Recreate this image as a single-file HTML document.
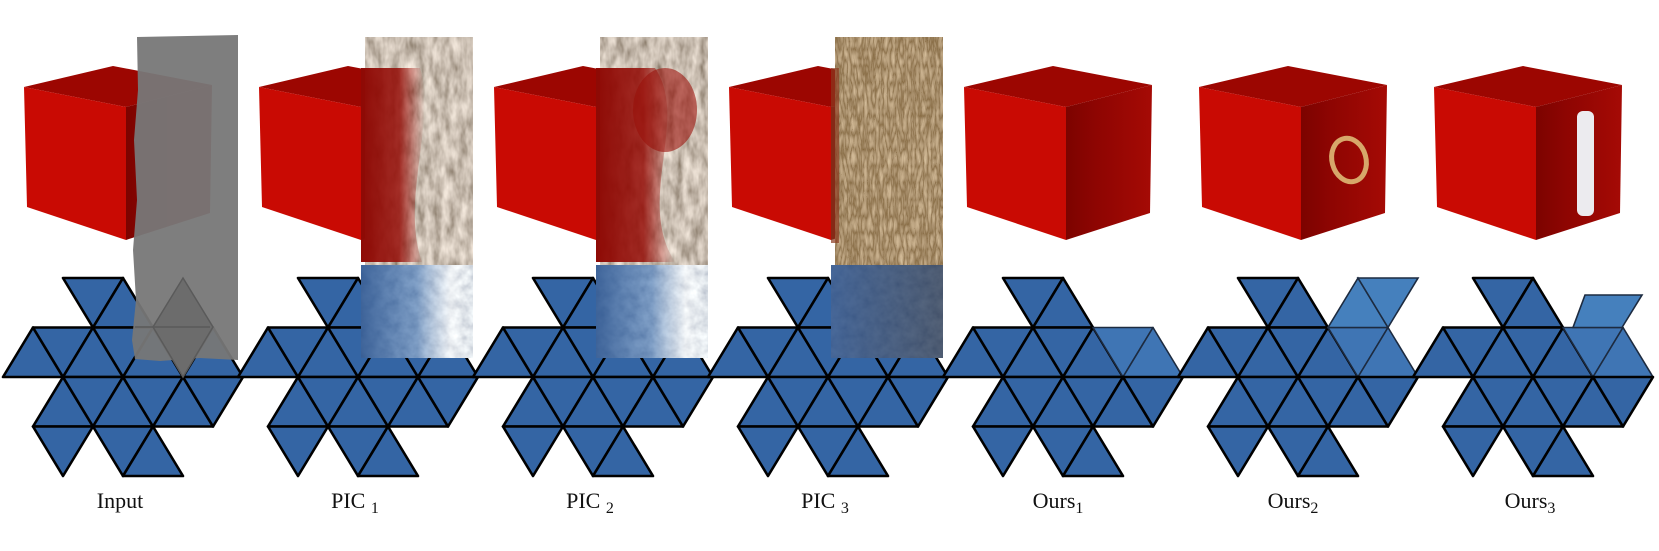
<!DOCTYPE html>
<html><head><meta charset="utf-8"><style>
html,body{margin:0;padding:0;background:#fff;}
#wrap{position:relative;width:1659px;height:551px;overflow:hidden;background:#fff;}
svg{position:absolute;left:0;top:0;}
.lbl{position:absolute;top:488px;width:200px;text-align:center;font-family:"Liberation Serif",serif;font-size:22px;color:#111;}
.lbl sub{font-size:16px;vertical-align:-5px;}
</style></head><body>
<div id="wrap">
<svg id="fig" width="1659" height="551">
<defs>
<linearGradient id="rf" x1="0" x2="1" y1="0" y2="0"><stop offset="0" stop-color="#7c0300"/><stop offset="0.35" stop-color="#8e0502"/><stop offset="1" stop-color="#a50a05"/></linearGradient>
<linearGradient id="redfade" x1="0" x2="1" y1="0" y2="0"><stop offset="0" stop-color="#8e0a05" stop-opacity="1"/><stop offset="0.6" stop-color="#960e08" stop-opacity="0.85"/><stop offset="1" stop-color="#a0100a" stop-opacity="0"/></linearGradient>
<linearGradient id="bluefade" x1="0" x2="1" y1="0" y2="0"><stop offset="0" stop-color="#2c5590" stop-opacity="0.9"/><stop offset="0.5" stop-color="#3a6aa8" stop-opacity="0.6"/><stop offset="0.8" stop-color="#ffffff" stop-opacity="0.5"/><stop offset="1" stop-color="#ffffff" stop-opacity="0.2"/></linearGradient>
<linearGradient id="navy" x1="0" x2="1" y1="0" y2="0"><stop offset="0" stop-color="#2a4f88" stop-opacity="0.85"/><stop offset="1" stop-color="#1f2f4a" stop-opacity="0.75"/></linearGradient>
<filter id="nz" x="0" y="0" width="1" height="1"><feTurbulence type="fractalNoise" baseFrequency="0.12 0.05" numOctaves="3" seed="3"/><feColorMatrix type="matrix" values="0.9 0 0 0 0.15  0.85 0 0 0 0.1  0.8 0 0 0 0.05  0 0 0 0 1"/></filter>
<filter id="nzb" x="0" y="0" width="1" height="1"><feTurbulence type="fractalNoise" baseFrequency="0.1" numOctaves="3" seed="7"/><feColorMatrix type="matrix" values="0.8 0 0 0 0.3  0.8 0 0 0 0.35  0.7 0 0 0 0.45  0 0 0 0 1"/></filter>
<filter id="nzw" x="0" y="0" width="1" height="1"><feTurbulence type="turbulence" baseFrequency="0.25 0.06" numOctaves="2" seed="5"/><feColorMatrix type="matrix" values="1.0 0 0 0 0.3  0.9 0 0 0 0.2  0.7 0 0 0 0.08  0 0 0 0 1"/></filter>
</defs>
</svg>
<div class="lbl" style="left:20px">Input</div>
<div class="lbl" style="left:255px">PIC <sub>1</sub></div>
<div class="lbl" style="left:490px">PIC <sub>2</sub></div>
<div class="lbl" style="left:725px">PIC <sub>3</sub></div>
<div class="lbl" style="left:958px">Ours<sub>1</sub></div>
<div class="lbl" style="left:1193px">Ours<sub>2</sub></div>
<div class="lbl" style="left:1430px">Ours<sub>3</sub></div>
</div>
<script>
const panels=['input','pic1','pic2','pic3','ours1','ours2','ours3'];
const baseTris=[[0,3,'d'],[0,4,'u'],[1,1,'u'],[1,2,'d'],[1,3,'u'],[1,4,'d'],[1,5,'u'],[1,6,'d'],[1,7,'u'],[2,2,'u'],[2,3,'d'],[2,4,'u'],[2,5,'d'],[2,6,'u'],[2,7,'d'],[3,2,'d'],[3,4,'d'],[3,5,'u']];
const glassTris=[[1,6,'d'],[1,7,'u']];
const svg=document.getElementById('fig');
const NS='http://www.w3.org/2000/svg';
const PW=235,Y0=278,DY=49.5;
function mk(tag,attrs,parent){const e=document.createElementNS(NS,tag);for(const k in attrs)e.setAttribute(k,attrs[k]);(parent||svg).appendChild(e);return e;}
function pt(x0,r,j){return [x0+3+30*j,Y0+r*DY];}
function triPts(x0,t){const[r,j,ty]=t;let p;if(ty==='u')p=[pt(x0,r+1,j-1),pt(x0,r+1,j+1),pt(x0,r,j)];else p=[pt(x0,r,j-1),pt(x0,r,j+1),pt(x0,r+1,j)];return p.map(a=>a.join(',')).join(' ');}
panels.forEach((name,i)=>{
  const x0=i*PW;
  const g=mk('g',{});
  
  
  const net=mk('g',{},g);
  
  
  baseTris.forEach(t=>{
    const isGlass=i>=4&&glassTris.some(q=>q[0]===t[0]&&q[1]===t[1]);
    const p=mk('polygon',{points:triPts(x0,t),fill:isGlass?'#3f75b4':'#3465a4',stroke:isGlass?'#1d2b40':'#000','stroke-width':isGlass?1.6:2.6,'stroke-linejoin':'round'},net);
    
    
  });
  if(name==='ours2'){
    [[0,6,'u'],[0,7,'d']].forEach(t=>{const p=mk('polygon',{points:triPts(x0,t),fill:'#4580bd',stroke:'#1d2b40','stroke-width':1.6},net);
    
    });
  }
  if(name==='ours3'){
    const p=mk('polygon',{points:[[x0+175,Y0+17],[x0+232,Y0+17],[x0+212,Y0+DY],[x0+163,Y0+DY]].map(a=>a.join(',')).join(' '),fill:'#4580bd',stroke:'#1d2b40','stroke-width':1.6},net);
    
    
  }
  const L=x0+24;
  const cube=mk('g',{},g);
  
  
  mk('polygon',{points:`${L},87 ${L+89},66 ${L+188},85 ${L+102},107`,fill:'#9c0601'},cube);
  mk('polygon',{points:`${L+102},107 ${L+188},85 ${L+186},213 ${L+102},240`,fill:'url(#rf)'},cube);
  mk('polygon',{points:`${L},87 ${L+102},107 ${L+102},240 ${L+3},207`,fill:'#c90a03'},cube);
  if(name==='ours2'){
    const r=mk('ellipse',{cx:L+150,cy:160,rx:17,ry:22,fill:'none',stroke:'#d7a76a','stroke-width':5,transform:`rotate(-15 ${L+150} 160)`},cube);
    
    
  }
  if(name==='ours3'){
    const c=mk('rect',{x:L+143,y:111,width:17,height:105,rx:6,fill:'#ecebef'},cube);
    
    
  }
  if(name==='input'){
    const m=mk('path',{d:`M${x0+137},37 L${x0+238},35 L${x0+238},360 L${x0+200},358 L${x0+160},361 L${x0+135},359 L${x0+132},340 L${x0+136},300 L${x0+133},250 L${x0+137},200 L${x0+134},140 L${x0+138},90 Z`,fill:'#777','fill-opacity':0.95},g);
    
    
    mk('polygon',{points:`${x0+183},278 ${x0+213},327 ${x0+183},377 ${x0+153},327`,fill:'#6c6c6c',stroke:'#5a5a5a','stroke-width':1.5},g);
    mk('line',{x1:x0+135,y1:327,x2:x0+210,y2:327,stroke:'#5a5a5a','stroke-width':1.5},g);
  }
  if(name.startsWith('pic')){
    const fx=x0+130, fw=108;
    const n=mk('rect',{x:fx,y:37,width:fw,height:228,filter:name==='pic3'?'url(#nzw)':'url(#nz)'},g);
    
    
    if(name!=='pic3'){
      const wid=name==='pic1'?72:90;
      mk('path',{d:`M${fx-4},68 L${fx+55},68 C${fx+wid},120 ${fx+35},200 ${fx+wid-15},262 L${fx-4},262 Z`,fill:'url(#redfade)'},g);
      if(name==='pic2') mk('ellipse',{cx:fx+65,cy:110,rx:32,ry:42,fill:'#9a100a','fill-opacity':0.6},g);
    } else {
      mk('rect',{x:fx,y:37,width:fw,height:228,fill:'#6a4a28','fill-opacity':0.3},g);
      mk('rect',{x:fx-4,y:68,width:8,height:175,fill:'#8a3a20','fill-opacity':0.7},g);
    }
    const b=mk('rect',{x:fx-4,y:265,width:fw+4,height:93,filter:'url(#nzb)'},g);
    
    
    mk('rect',{x:fx-4,y:265,width:fw+4,height:93,fill:name==='pic3'?'url(#navy)':'url(#bluefade)'},g);
  }
});
</script>
</body></html>
